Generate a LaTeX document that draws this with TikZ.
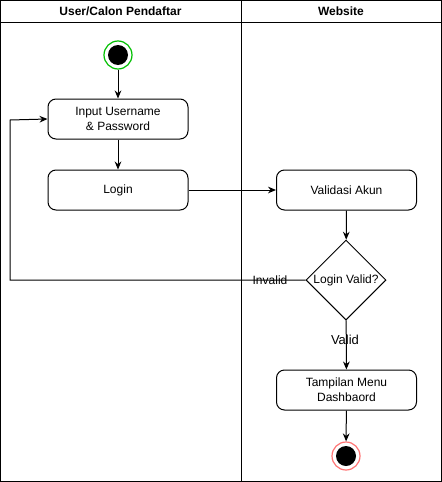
\documentclass[tikz,border=0pt]{standalone}
\usepackage{fontspec}
\setmainfont{Liberation Sans}
\usetikzlibrary{arrows.meta,shapes.geometric}
\begin{document}
\begin{tikzpicture}[x=0.75pt,y=-0.75pt,
  font=\fontsize{9}{11}\selectfont,
  lane/.style={draw=black,line width=0.75pt},
  action/.style={draw=black,line width=0.75pt,rounded corners=6pt,minimum width=105pt,minimum height=30pt,align=center,inner sep=1pt},
  decision/.style={draw=black,line width=0.75pt,diamond,minimum width=60pt,minimum height=60pt,inner sep=0pt,aspect=1},
  flow/.style={draw=black,line width=0.75pt,-{Stealth[length=6pt,width=5pt]}},
  lbl/.style={inner sep=1pt}]
\useasboundingbox (0,0) rectangle (442,482);
% swimlanes
\draw[lane] (0.5,0.5) rectangle (441.5,481.5);
\draw[lane] (0.5,22) -- (441.5,22);
\draw[lane] (241,0.5) -- (241,481.5);
\node[font=\fontsize{9}{11}\selectfont\bfseries] (h1) at (120.5,11.5) {User/Calon Pendaftar};
\node[font=\fontsize{9}{11}\selectfont\bfseries] (h2) at (341,11.5) {Website};
% start
\node[circle,draw=green!75!black,line width=0.9pt,minimum size=21pt,inner sep=0pt] (start) at (118,55) {};
\node[circle,fill=black,minimum size=15pt,inner sep=0pt] (startdot) at (118,55) {};
% actions
\node[action] (input) at (118,119) {Input Username\\\& Password};
\node[action] (login) at (118,190) {Login};
\node[action] (valid) at (346.5,190) {Validasi Akun};
\node[decision] (check) at (346,280) {Login Valid?};
\node[action] (menu) at (346.5,390) {Tampilan Menu\\Dashbaord};
% end
\node[circle,draw=red!55,line width=0.9pt,minimum size=21pt,inner sep=0pt] (stop) at (346,456) {};
\node[circle,fill=black,minimum size=15pt,inner sep=0pt] (stopdot) at (346,456) {};
\coordinate (bl) at (10,280);
\coordinate (tl) at (10,120);
% flows
\draw[flow] (start) -- (input);
\draw[flow] (input) -- (login);
\draw[flow] (login) -- (valid);
\draw[flow] (valid) -- (check);
\draw[flow] (check) -- (menu);
\draw[flow] (menu) -- (stop);
\draw[flow] (check.west) -- (bl) -- (tl) -- (input.west);
% branch labels
\node[lbl] (inv) at (270,280) {Invalid};
\node[lbl,font=\fontsize{9.75}{11}\selectfont] (ok) at (345,340) {Valid};
\end{tikzpicture}
\end{document}
